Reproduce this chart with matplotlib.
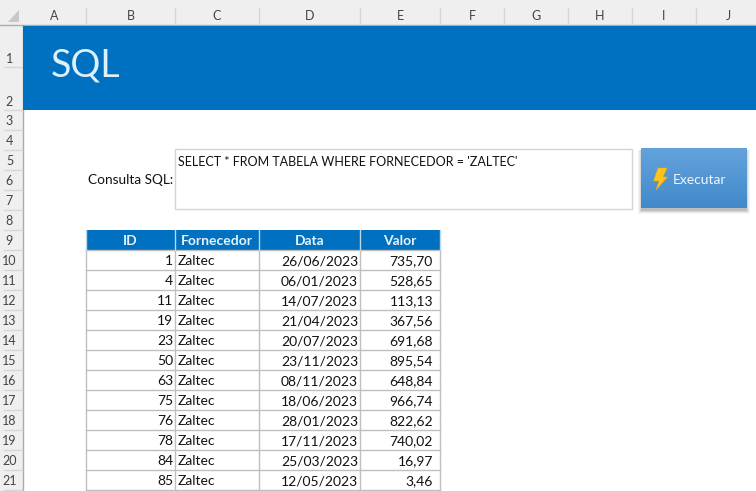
import numpy as np
import matplotlib
matplotlib.use('Agg')
import matplotlib.pyplot as plt
from matplotlib.patches import Rectangle, Polygon

plt.rcParams['font.family'] = ['Lato', 'DejaVu Sans']

col_letters = ['A', 'B', 'C', 'D', 'E', 'F', 'G', 'H', 'I', 'J']
headers = ['ID', 'Fornecedor', 'Data', 'Valor']
ids = [1, 4, 11, 19, 23, 50, 63, 75, 76, 78, 84, 85]
fornecedor = ['Zaltec'] * 12
datas = ['26/06/2023', '06/01/2023', '14/07/2023', '21/04/2023', '20/07/2023', '23/11/2023',
         '08/11/2023', '18/06/2023', '28/01/2023', '17/11/2023', '25/03/2023', '12/05/2023']
valores = ['735,70', '528,65', '113,13', '367,56', '691,68', '895,54',
           '648,84', '966,74', '822,62', '740,02', '16,97', '3,46']
query = "SELECT * FROM TABELA WHERE FORNECEDOR = 'ZALTEC'"

# sheet geometry in pixels
col_edges = [23, 86, 175, 259, 360, 440, 504, 568, 632, 696, 760]
row_edges = [25, 67, 110] + [110 + 20 * i for i in range(1, 20)]

BLUE = '#0070C0'
GRID = '#BFBFBF'
HEAD_BG = '#EFEFEF'
HEAD_TX = '#444444'

fig = plt.figure(figsize=(7.56, 4.91), dpi=100, facecolor='white')
ax = fig.add_axes([0, 0, 1, 1])
ax.set_xlim(0, 756)
ax.set_ylim(491, 0)
ax.axis('off')

# excel headers
ax.add_patch(Rectangle((0, 0), 756, 25, fc=HEAD_BG, ec='none', zorder=1))
ax.add_patch(Rectangle((0, 0), 23, 491, fc=HEAD_BG, ec='none', zorder=1))
ax.plot([0, 756], [25, 25], color='#ABABAB', lw=1, zorder=2)
ax.plot([22.5, 22.5], [25, 491], color='#ABABAB', lw=1, zorder=2)
ax.add_patch(Polygon([[19, 10], [19, 22], [8, 22]], fc='#C8C8C8', ec='none', zorder=2))

for i, letter in enumerate(col_letters):
    ax.text((col_edges[i] + col_edges[i + 1]) / 2, 15.5, letter, ha='center', va='center',
            fontsize=9, color=HEAD_TX, zorder=3)
    if i > 0:
        ax.plot([col_edges[i]] * 2, [8, 24], color='#D6D6D6', lw=1, zorder=2)

for i in range(21):
    top, bottom = row_edges[i], row_edges[i + 1]
    # rows 1 and 2 have their number at the bottom of the cell
    y = bottom - 8.5 if i < 2 else (top + bottom) / 2 + 1
    ax.text(9.5, y, str(i + 1), ha='center', va='center', fontsize=9, color=HEAD_TX, zorder=3)
    ax.plot([4, 22], [bottom, bottom], color='#D6D6D6', lw=1, zorder=2)

# title band
ax.add_patch(Rectangle((23, 25.5), 733, 84.5, fc=BLUE, ec='none', zorder=2))
ax.text(51, 65, 'SQL', ha='left', va='center', fontsize=27, color='#DDF1FB', zorder=3)

# query box
ax.text(173, 180, 'Consulta SQL:', ha='right', va='center', fontsize=9.8, color='#111111', zorder=3)
ax.add_patch(Rectangle((175, 149), 457, 60, fc='white', ec='#D4D4D4', lw=1, zorder=2))
ax.text(178, 161.5, query, ha='left', va='center', fontsize=9, color='#111111', zorder=3)

# button shadow, gradient, bolt
for grow, alpha in zip([4, 3, 2, 1], [0.05, 0.08, 0.12, 0.2]):
    ax.add_patch(Rectangle((641 - grow + 1, 148 + 2), 106 + 2 * grow - 2, 60 + grow, fc='#555555',
                           ec='none', alpha=alpha, zorder=2))
grad = np.linspace(0, 1, 60).reshape(-1, 1)
top_rgb = np.array([0x63, 0xA3, 0xDC]) / 255
bot_rgb = np.array([0x42, 0x89, 0xCB]) / 255
img = top_rgb + (bot_rgb - top_rgb) * grad[..., None]
ax.imshow(img, extent=(641, 747, 208, 148), aspect='auto', zorder=3)
ax.set_xlim(0, 756)
ax.set_ylim(491, 0)
ax.add_patch(Polygon([[658, 168], [667, 168], [663, 177], [667.5, 177], [656, 190],
                      [659, 181], [653.5, 181]], fc='#FFC21F', ec='#E9A90F', lw=0.4, zorder=4))
ax.text(673, 179.5, 'Executar', ha='left', va='center', fontsize=10, color='#EEF6FC', zorder=4)

# table
tx = col_edges[1:6]
ty0 = 229.5
n = len(ids)
ax.add_patch(Rectangle((tx[0], ty0), tx[4] - tx[0], 20, fc=BLUE, ec='none', zorder=2))
for j, h in enumerate(headers):
    ax.text((tx[j] + tx[j + 1]) / 2, ty0 + 11, h, ha='center', va='center', fontsize=10,
            fontweight='bold', color='#E8F3FA', zorder=3)
for x in tx:
    ax.plot([x, x], [ty0 + 20, 491], color=GRID, lw=1, zorder=2)
for x in tx:
    ax.plot([x, x], [ty0, ty0 + 20], color='#BDD7EA', lw=1, zorder=2.5)
for i in range(n + 1):
    y = ty0 + 20 * (i + 1)
    ax.plot([tx[0], tx[4]], [y, y], color=GRID, lw=1, zorder=2)

for i in range(n):
    y = ty0 + 20 * (i + 1) + 11.5
    ax.text(tx[1] - 2, y, str(ids[i]), ha='right', va='center', fontsize=10, color='#111111', zorder=3)
    ax.text(tx[1] + 3, y, fornecedor[i], ha='left', va='center', fontsize=10, color='#111111', zorder=3)
    ax.text(tx[3] - 2, y, datas[i], ha='right', va='center', fontsize=10, color='#111111', zorder=3)
    ax.text(tx[4] - 7, y, valores[i], ha='right', va='center', fontsize=10, color='#111111', zorder=3)

fig.savefig('out.png', dpi=100, facecolor='white')
